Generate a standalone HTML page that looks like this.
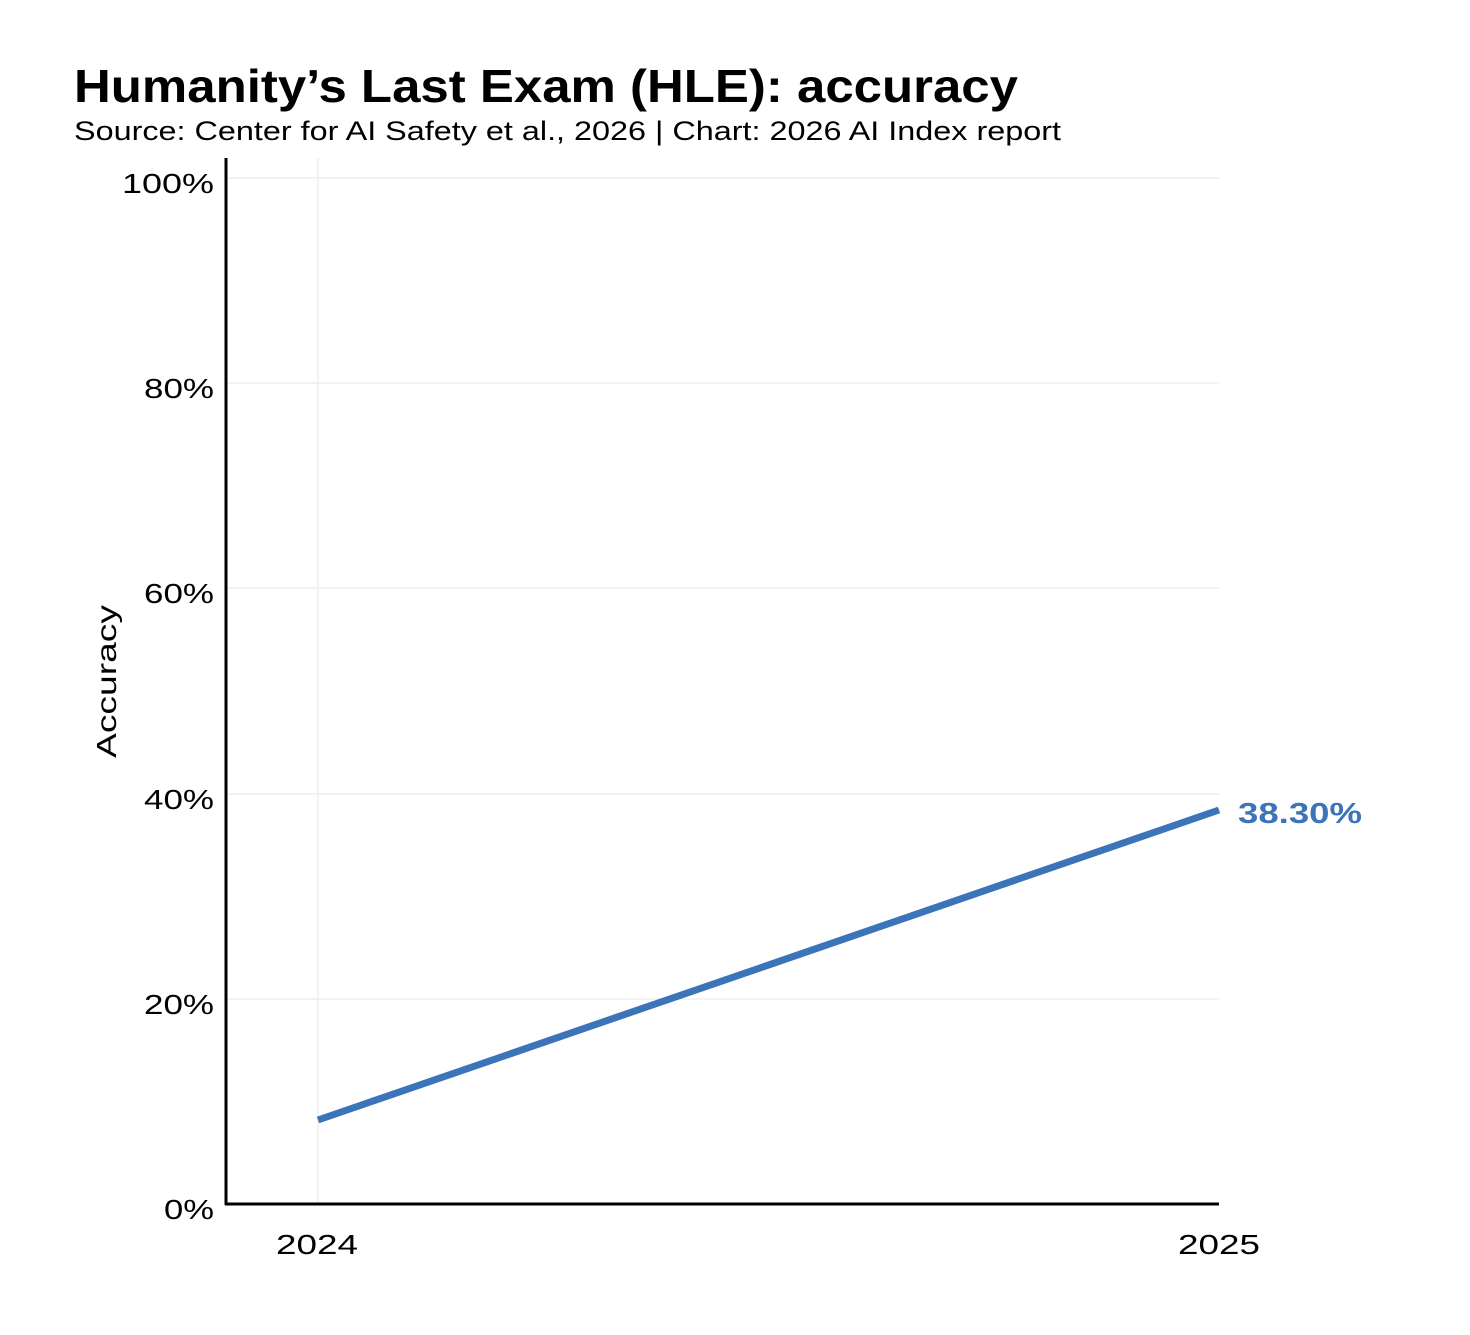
<!DOCTYPE html>
<html><head><meta charset="utf-8"><style>
html,body{margin:0;padding:0;background:#fff;}
svg text{font-family:"Liberation Sans",sans-serif;}
</style></head><body>
<svg width="1470" height="1330" viewBox="0 0 1470 1330" xmlns="http://www.w3.org/2000/svg">
<rect width="1470" height="1330" fill="#fff"/>
<text x="74" y="102" font-size="46" font-weight="bold" fill="#000" textLength="944" lengthAdjust="spacingAndGlyphs">Humanity’s Last Exam (HLE): accuracy</text>
<text x="74" y="140" font-size="27" fill="#000" textLength="987" lengthAdjust="spacingAndGlyphs">Source: Center for AI Safety et al., 2026 | Chart: 2026 AI Index report</text>
<g stroke="#eeeeee" stroke-width="1.5">
<line x1="226" y1="178" x2="1219" y2="178"/>
<line x1="226" y1="383" x2="1219" y2="383"/>
<line x1="226" y1="588" x2="1219" y2="588"/>
<line x1="226" y1="794" x2="1219" y2="794"/>
<line x1="226" y1="999" x2="1219" y2="999"/>
<line x1="318" y1="158" x2="318" y2="1204"/>
</g>
<line x1="226" y1="158" x2="226" y2="1205" stroke="#000" stroke-width="3"/>
<line x1="225" y1="1204" x2="1219" y2="1204" stroke="#000" stroke-width="3"/>
<g font-size="28" fill="#000" text-anchor="end">
<text x="214" y="193" textLength="92" lengthAdjust="spacingAndGlyphs">100%</text>
<text x="214" y="398" textLength="70" lengthAdjust="spacingAndGlyphs">80%</text>
<text x="214" y="603" textLength="70" lengthAdjust="spacingAndGlyphs">60%</text>
<text x="214" y="809" textLength="70" lengthAdjust="spacingAndGlyphs">40%</text>
<text x="214" y="1014" textLength="70" lengthAdjust="spacingAndGlyphs">20%</text>
<text x="214" y="1219" textLength="50" lengthAdjust="spacingAndGlyphs">0%</text>
</g>
<g font-size="28" fill="#000">
<text x="276" y="1254" textLength="82" lengthAdjust="spacingAndGlyphs">2024</text>
<text x="1178" y="1254" textLength="82" lengthAdjust="spacingAndGlyphs">2025</text>
</g>
<text transform="translate(116,758) rotate(-90)" font-size="28" fill="#000" textLength="153" lengthAdjust="spacingAndGlyphs">Accuracy</text>
<line x1="318" y1="1120" x2="1219" y2="810" stroke="#3b74b8" stroke-width="7"/>
<text x="1238" y="823" font-size="29" font-weight="bold" fill="#3b74b8" textLength="124" lengthAdjust="spacingAndGlyphs">38.30%</text>
</svg>
</body></html>
